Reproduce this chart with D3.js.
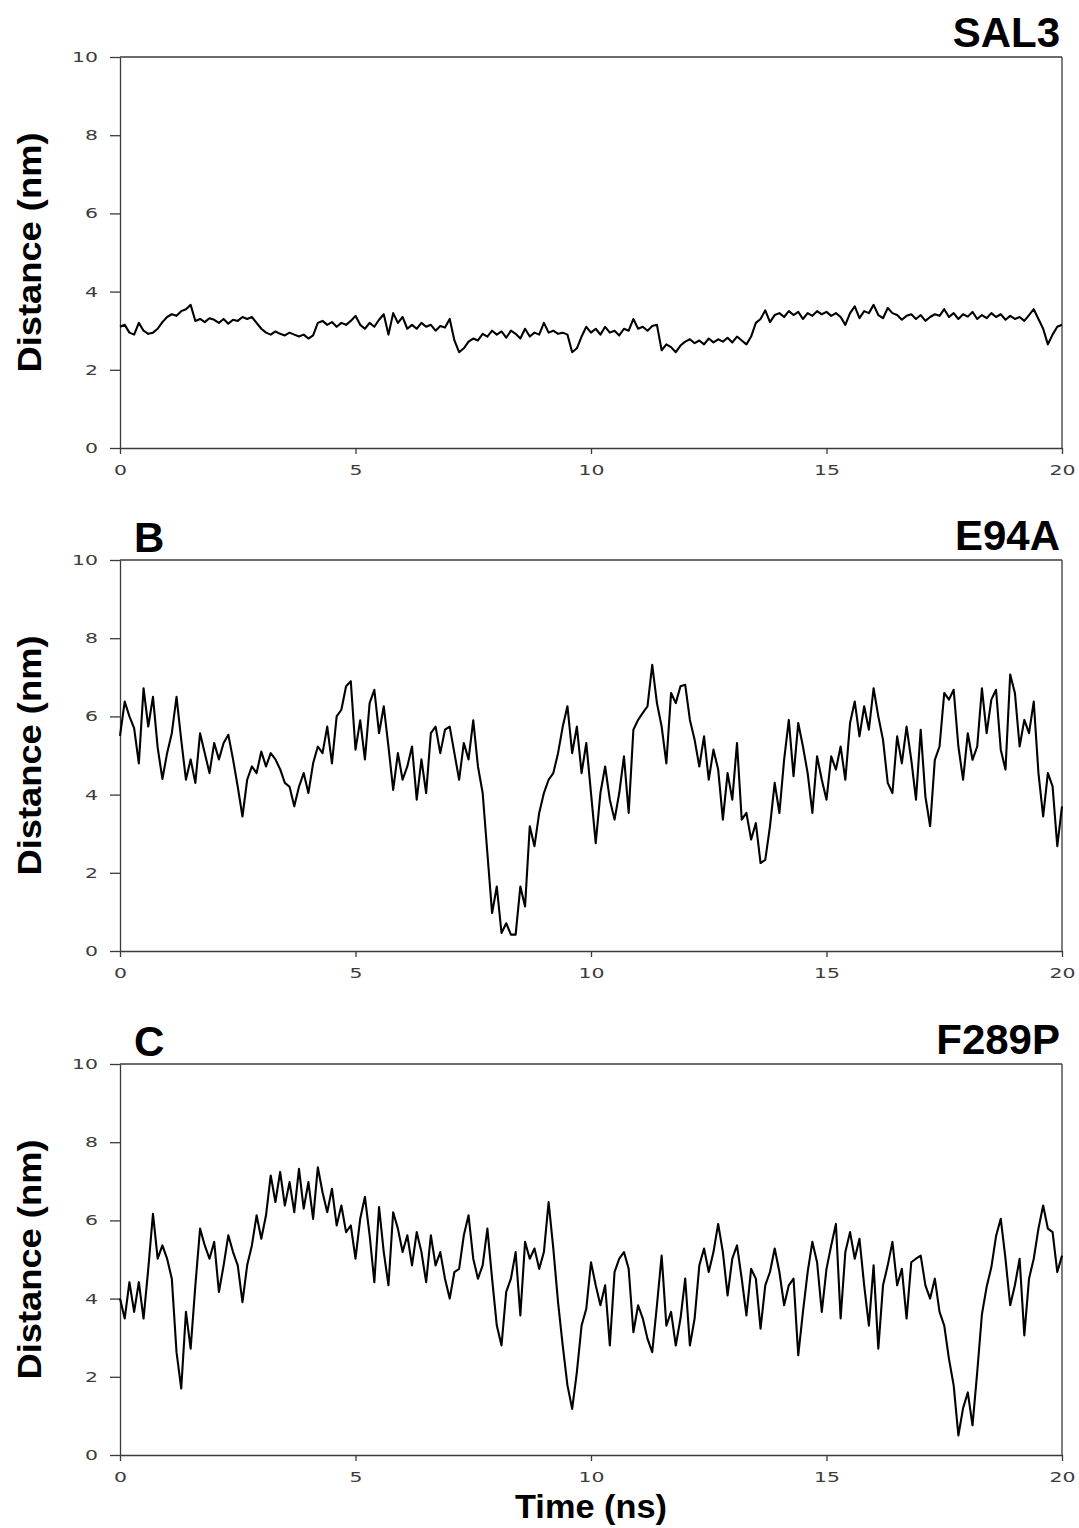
<!DOCTYPE html>
<html><head><meta charset="utf-8">
<script src="https://cdn.jsdelivr.net/npm/d3@7"></script>
<style>body{margin:0;background:#fff}svg{display:block}</style>
</head><body><svg id="c" width="1079" height="1528"></svg>
<script>
// ---- data (distance in nm, sampled every 0.1 ns from 0 to 20 ns) ----
const timeStep = 0.1;
const sal3 = [
3.10,3.15,2.95,2.90,3.20,3.00,2.92,2.95,3.05,3.22,
3.35,3.42,3.38,3.50,3.55,3.66,3.25,3.30,3.22,3.32,
3.28,3.20,3.30,3.18,3.28,3.25,3.35,3.30,3.35,3.20,
3.05,2.95,2.90,2.98,2.92,2.88,2.95,2.90,2.85,2.90,
2.80,2.88,3.20,3.25,3.15,3.22,3.10,3.20,3.15,3.25,
3.38,3.15,3.05,3.20,3.10,3.28,3.42,2.90,3.45,3.20,
3.35,3.05,3.15,3.05,3.20,3.10,3.15,3.00,3.12,3.08,
3.30,2.75,2.45,2.55,2.72,2.80,2.75,2.92,2.85,3.00,
2.90,2.98,2.82,3.00,2.92,2.80,3.05,2.85,2.95,2.90,
3.20,2.95,3.00,2.92,2.95,2.90,2.45,2.55,2.85,3.10,
2.95,3.05,2.90,3.10,2.95,3.00,2.88,3.05,3.00,3.30,
3.05,3.10,3.00,3.12,3.15,2.50,2.65,2.58,2.45,2.62,
2.72,2.78,2.68,2.75,2.65,2.80,2.70,2.78,2.72,2.82,
2.70,2.85,2.75,2.65,2.85,3.20,3.30,3.52,3.22,3.40,
3.45,3.35,3.50,3.40,3.48,3.30,3.45,3.38,3.50,3.42,
3.48,3.38,3.45,3.35,3.15,3.45,3.62,3.32,3.50,3.45,
3.66,3.40,3.32,3.58,3.45,3.40,3.28,3.38,3.42,3.30,
3.40,3.25,3.35,3.42,3.38,3.55,3.35,3.45,3.30,3.42,
3.36,3.48,3.30,3.40,3.32,3.45,3.35,3.42,3.28,3.38,
3.30,3.35,3.25,3.40,3.55,3.30,3.05,2.65,2.90,3.10,
3.15];
const e94a = [
5.50,6.38,6.00,5.70,4.80,6.72,5.74,6.50,5.20,4.40,
5.06,5.57,6.50,5.40,4.38,4.90,4.30,5.57,5.06,4.55,
5.32,4.90,5.32,5.53,4.90,4.20,3.44,4.38,4.72,4.55,
5.10,4.72,5.06,4.90,4.65,4.30,4.20,3.70,4.20,4.55,
4.04,4.80,5.23,5.06,5.74,4.80,6.00,6.17,6.77,6.90,
5.15,5.90,4.90,6.34,6.68,5.57,6.26,5.23,4.12,5.06,
4.38,4.72,5.23,3.87,4.90,4.04,5.57,5.74,5.06,5.66,
5.74,5.06,4.38,5.32,4.90,5.90,4.72,4.04,2.50,0.97,
1.65,0.46,0.71,0.42,0.42,1.65,1.14,3.19,2.68,3.53,
4.04,4.38,4.55,5.06,5.74,6.26,5.06,5.74,4.55,5.32,
4.04,2.76,4.04,4.72,3.87,3.36,4.04,4.98,3.53,5.66,
5.91,6.09,6.26,7.32,6.34,5.74,4.80,6.60,6.34,6.77,
6.81,5.91,5.40,4.72,5.49,4.38,5.15,4.64,3.36,4.55,
3.87,5.32,3.36,3.53,2.85,3.27,2.25,2.33,3.19,4.30,
3.53,4.89,5.91,4.47,5.83,5.23,4.55,3.53,4.98,4.38,
3.87,4.98,4.64,5.23,4.38,5.83,6.38,5.49,6.26,5.66,
6.72,6.00,5.40,4.30,4.04,5.49,4.80,5.74,4.89,3.87,
5.66,3.95,3.19,4.89,5.23,6.60,6.43,6.68,5.23,4.38,
5.57,4.89,5.23,6.72,5.57,6.43,6.68,5.15,4.64,7.07,
6.60,5.23,5.91,5.57,6.38,4.55,3.44,4.55,4.21,2.68,
3.70];
const f289p = [
4.00,3.49,4.42,3.66,4.42,3.49,4.76,6.17,5.02,5.36,
5.02,4.51,2.63,1.70,3.66,2.72,4.34,5.79,5.36,5.02,
5.45,4.17,4.85,5.62,5.19,4.85,3.91,4.85,5.36,6.13,
5.53,6.13,7.15,6.47,7.24,6.38,6.98,6.21,7.32,6.30,
6.98,6.04,7.36,6.72,6.21,6.81,5.87,6.38,5.70,5.87,
5.02,6.04,6.60,5.62,4.42,6.34,5.19,4.34,6.21,5.79,
5.19,5.62,4.85,5.70,5.19,4.42,5.62,4.85,5.19,4.51,
4.00,4.68,4.76,5.62,6.13,5.02,4.51,4.85,5.79,4.51,
3.31,2.80,4.17,4.51,5.19,3.57,5.45,5.02,5.28,4.76,
5.19,6.47,5.28,3.91,2.80,1.78,1.18,2.12,3.31,3.74,
4.93,4.34,3.83,4.34,2.80,4.68,5.02,5.19,4.76,3.14,
3.83,3.49,2.97,2.63,3.83,5.10,3.31,3.66,2.80,3.49,
4.51,2.80,3.49,4.85,5.28,4.68,5.19,5.91,5.19,4.08,
5.02,5.36,4.51,3.57,4.76,4.51,3.23,4.34,4.68,5.28,
4.68,3.83,4.34,4.51,2.55,3.66,4.68,5.45,4.93,3.66,
4.76,5.36,5.91,3.49,5.19,5.70,5.02,5.53,4.34,3.31,
4.85,2.72,4.34,4.85,5.45,4.34,4.76,3.49,4.93,5.02,
5.10,4.34,4.00,4.51,3.66,3.31,2.46,1.78,0.50,1.20,
1.60,0.76,2.12,3.60,4.30,4.80,5.60,6.04,5.02,3.83,
4.34,5.02,3.06,4.51,5.02,5.79,6.38,5.79,5.70,4.68,
5.10];
const panelNames = ["SAL3", "E94A", "F289P"];
const panelLetters = ["", "B", "C"];
const xTicks = [0, 5, 10, 15, 20];
const yTicks = [0, 2, 4, 6, 8, 10];
const yLabel = "Distance (nm)";
const xLabel = "Time (ns)";

// ---- layout ----
const series = [sal3, e94a, f289p];
const left = 120, right = 1062;
const tops = [57, 560, 1064];
const ph = 391;
const svg = d3.select("#c");
const axisCol = "#3a3a3a";

const x = d3.scaleLinear().domain([0, 20]).range([left, right]);

series.forEach((vals, i) => {
  const top = tops[i], bottom = top + ph;
  const y = d3.scaleLinear().domain([0, 10]).range([bottom, top]);
  const g = svg.append("g");

  g.append("line").attr("x1", left).attr("x2", right).attr("y1", top).attr("y2", top)
    .attr("stroke", axisCol).attr("stroke-width", 1.3);
  g.append("line").attr("x1", right).attr("x2", right).attr("y1", top).attr("y2", bottom)
    .attr("stroke", axisCol).attr("stroke-width", 1.3);

  const ya = g.append("g").attr("transform", `translate(${left},0)`)
    .call(d3.axisLeft(y).tickValues(yTicks).tickSize(10).tickSizeOuter(0).tickPadding(12).tickFormat(d3.format("d")));
  const xa = g.append("g").attr("transform", `translate(0,${bottom})`)
    .call(d3.axisBottom(x).tickValues(xTicks).tickSize(6).tickSizeOuter(0).tickPadding(11).tickFormat(d3.format("d")));
  [ya, xa].forEach(a => {
    a.selectAll("path,line").attr("stroke", axisCol).attr("stroke-width", 1.3);
    a.selectAll("text").attr("fill", "#3c3c3c").style("font-family", "'DejaVu Sans', sans-serif")
      .style("font-size", "14px")
      .attr("textLength", function () { return this.textContent.length * 13; })
      .attr("lengthAdjust", "spacingAndGlyphs");
  });

  const line = d3.line().x((d, k) => x(k * timeStep)).y(d => y(d));
  g.append("path").datum(vals).attr("d", line).attr("fill", "none")
    .attr("stroke", "#000").attr("stroke-width", 2.1).attr("stroke-linejoin", "round");

  g.append("text").attr("x", 1060).attr("y", top - 10).attr("text-anchor", "end")
    .style("font-family", "'Liberation Sans', Arial, sans-serif").style("font-weight", "bold")
    .style("font-size", "42px").text(panelNames[i]);
  if (panelLetters[i]) {
    g.append("text").attr("x", 134).attr("y", top - 8)
      .style("font-family", "'Liberation Sans', Arial, sans-serif").style("font-weight", "bold")
      .style("font-size", "42px").text(panelLetters[i]);
  }
  g.append("text").attr("transform", `translate(41,${(top + bottom) / 2}) rotate(-90)`)
    .attr("text-anchor", "middle")
    .style("font-family", "'Liberation Sans', Arial, sans-serif").style("font-weight", "bold")
    .style("font-size", "33px").attr("textLength", 240).attr("lengthAdjust", "spacingAndGlyphs")
    .text(yLabel);
});

svg.append("text").attr("x", (left + right) / 2).attr("y", 1518).attr("text-anchor", "middle")
  .style("font-family", "'Liberation Sans', Arial, sans-serif").style("font-weight", "bold")
  .style("font-size", "34px").attr("textLength", 152).attr("lengthAdjust", "spacingAndGlyphs")
  .text(xLabel);
</script>
</body></html>
